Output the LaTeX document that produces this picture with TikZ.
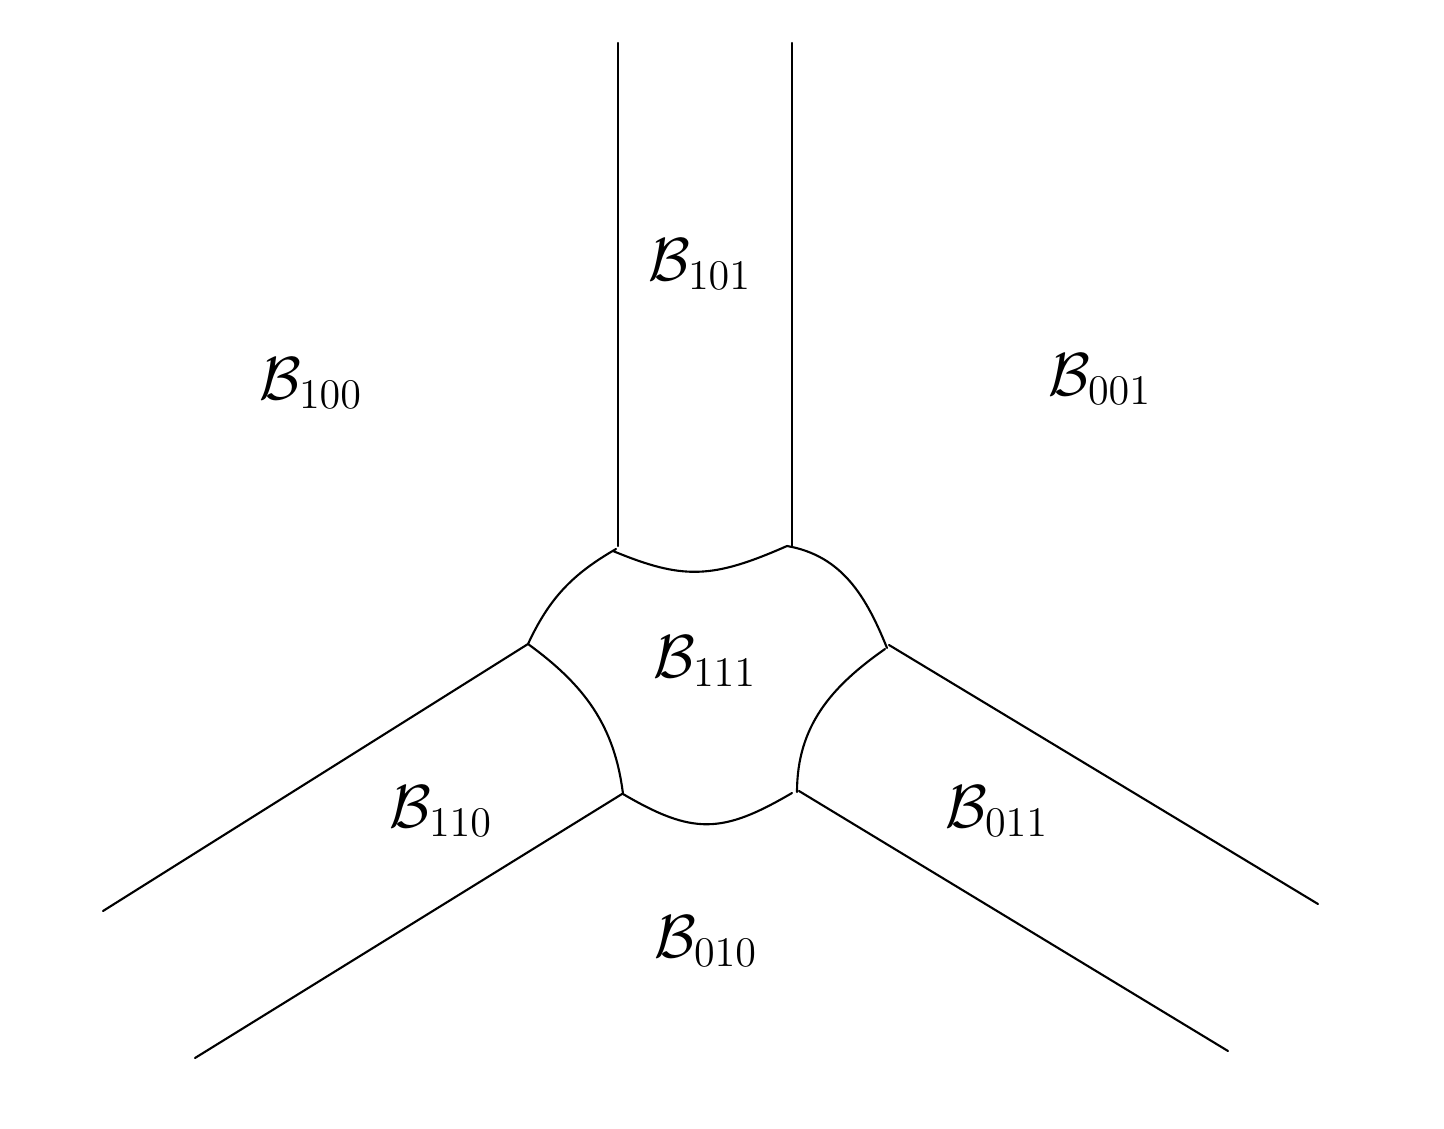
\documentclass[tikz,border=0pt]{standalone}
\usepackage{tikz}
\usepackage{amsmath}
\usepackage{amssymb}
\usetikzlibrary{positioning, calc}
\tikzset{
  wall/.style={semithick, line cap=round},
  region/.style={inner sep=0pt, font=\LARGE},
}

\begin{document}
\begin{tikzpicture}
        \useasboundingbox (0,0) rectangle (14.44,11.28);
        % junction points
        \coordinate (tl) at (6.18,5.82);
        \coordinate (tr) at (7.92,5.82);
        \coordinate (tlc) at (6.13,5.77);
        \coordinate (trc) at (7.87,5.82);
        \coordinate (ml) at (5.28,4.84);
        \coordinate (mr) at (8.87,4.80);
        \coordinate (mrc) at (8.85,4.79);
        \coordinate (bl) at (6.23,3.34);
        \coordinate (br) at (7.92,3.35);
        \coordinate (brc) at (7.97,3.36);
        % outer ends
        \coordinate (tlend) at (6.18,10.85);
        \coordinate (trend) at (7.92,10.85);
        \coordinate (lend) at (1.03,2.17);
        \coordinate (rend) at (13.18,2.24);
        \coordinate (blend) at (1.95,0.70);
        \coordinate (brend) at (12.28,0.77);

        \draw[wall] (tlend) -- (tl);
        \draw[wall] (trend) -- (tr);
        \draw[wall] (ml) -- (lend);
        \draw[wall] ($(mr)+(0.02,0.03)$) -- (rend);
        \draw[wall] ($(bl)+(-0.01,0)$) -- (blend);
        \draw[wall] ($(brc)+(0.02,0.01)$) -- (brend);

        % inner cell
        \draw[wall] (tlc) .. controls ($(tlc)+(0.70,-0.29)$) and ($(trc)+(-0.75,-0.33)$) .. (trc);
        \draw[wall] ($(tlc)+(0.03,0.02)$) to[out=210, in=65] (ml);
        \draw[wall] (trc) to[out=-10, in=112] (mr);
        \draw[wall] (ml) to[out=-36, in=97] (bl);
        \draw[wall] (bl) .. controls ($(bl)+(0.70,-0.41)$) and ($(br)+(-0.70,-0.41)$) .. (br);
        \draw[wall] (mrc) to[out=215, in=90] (brc);

        % labels
        \node[region] (b101) at (7.00,8.64) {$\mathcal{B}_{101}$};
        \node[region] (b100) at (3.11,7.45) {$\mathcal{B}_{100}$};
        \node[region] (b001) at (11.00,7.49) {$\mathcal{B}_{001}$};
        \node[region] (b111) at (7.05,4.67) {$\mathcal{B}_{111}$};
        \node[region] (b110) at (4.41,3.17) {$\mathcal{B}_{110}$};
        \node[region] (b011) at (9.97,3.17) {$\mathcal{B}_{011}$};
        \node[region] (b010) at (7.06,1.87) {$\mathcal{B}_{010}$};
\end{tikzpicture}
\end{document}
